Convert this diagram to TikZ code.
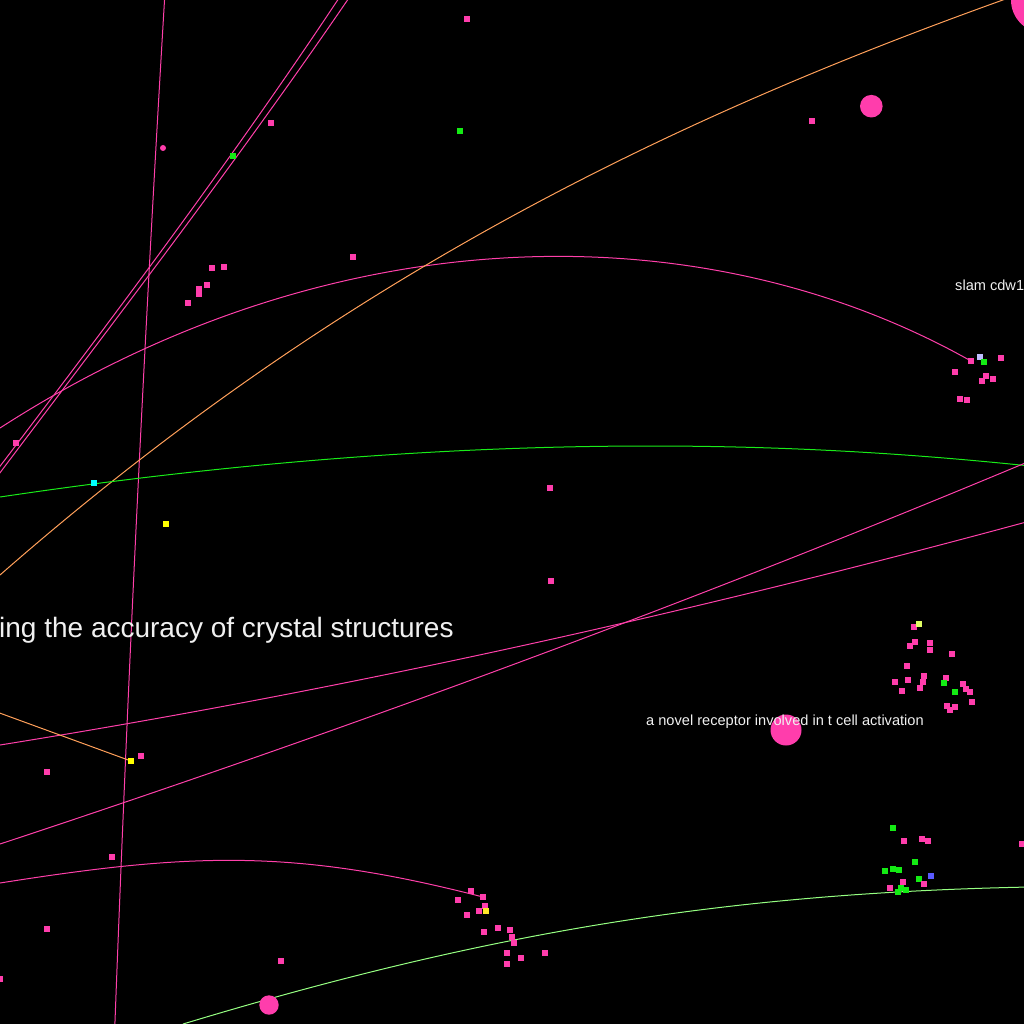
\documentclass[tikz,border=0pt]{standalone}
\usepackage{fontspec}
\setmainfont{Liberation Sans}
\usetikzlibrary{backgrounds}
\definecolor{pinkn}{RGB}{255,61,172}
\definecolor{pinkl}{RGB}{255,64,170}
\definecolor{orangel}{RGB}{255,160,90}
\definecolor{greenl}{RGB}{25,235,25}
\definecolor{lgreenl}{RGB}{150,255,130}
\definecolor{greenn}{RGB}{20,235,20}
\definecolor{yellown}{RGB}{255,255,0}
\definecolor{yellowb}{RGB}{255,230,40}
\definecolor{paley}{RGB}{225,255,100}
\definecolor{lavn}{RGB}{190,190,255}
\definecolor{bluen}{RGB}{90,90,255}
\definecolor{cyann}{RGB}{0,255,255}
\definecolor{txt}{RGB}{240,240,240}
\begin{document}
\begin{tikzpicture}[x=1pt,y=-1pt,
  sq/.style={rectangle,inner sep=0pt,minimum size=5.5pt,fill=#1},
  sq/.default=pinkn,
  hub/.style={circle,inner sep=0pt,minimum size=#1,fill=pinkn},
  link/.style={line width=1pt},
  lbl/.style={anchor=base west,inner sep=0pt,text=txt}]
\useasboundingbox (0,0) rectangle (1024,1024);
% ---------- nodes ----------
\node[sq] (p1) at (467,19) {};
\node[circle,inner sep=0pt,minimum size=6pt,fill=pinkn] (p2) at (163,148) {};
\node[sq] (p3) at (271,123) {};
\node[sq=greenn] (g1) at (233,156) {};
\node[sq=greenn] (g2) at (460,131) {};
\node[sq] (p4) at (812,121) {};
\node[hub=22.6pt] (B1) at (871.3,106.2) {};
\node[hub=66pt] (B0) at (1044,0) {};
\node[sq] (p5) at (353,257) {};
\node[sq] (p6) at (212,268) {};
\node[sq] (p7) at (224,267) {};
\node[sq] (p8) at (207,285) {};
\node[sq] (p9) at (199,289) {};
\node[sq] (p10) at (199,294) {};
\node[sq] (p11) at (188,303) {};
\node[sq] (p12) at (16,443) {};
\node[sq=cyann] (c1) at (94,483) {};
\node[sq] (p13) at (550,488) {};
\node[sq=yellown] (y1) at (166,524) {};
\node[sq] (p14) at (551,581) {};
% slam cluster
\node[sq] (s1) at (971,361) {};
\node[sq=lavn] (s2) at (980,357) {};
\node[sq=greenn] (s3) at (984,362) {};
\node[sq] (s4) at (1001,358) {};
\node[sq] (s5) at (955,372) {};
\node[sq] (s6) at (986,376) {};
\node[sq] (s7) at (982,381) {};
\node[sq] (s8) at (993,379) {};
\node[sq] (s9) at (960,399) {};
\node[sq] (s10) at (967,400) {};
% right cluster
\node[sq] (r2) at (914,627) {};
\node[sq=paley] (r1) at (919,624) {};
\node[sq] (r3) at (915,642) {};
\node[sq] (r4) at (930,643) {};
\node[sq] (r5) at (910,646) {};
\node[sq] (r6) at (930,650) {};
\node[sq] (r7) at (952,654) {};
\node[sq] (r8) at (907,666) {};
\node[sq] (r9) at (924,676) {};
\node[sq] (r10) at (908,680) {};
\node[sq] (r11) at (895,682) {};
\node[sq] (r12) at (923,682) {};
\node[sq] (r13) at (946,678) {};
\node[sq=greenn] (r14) at (944,683) {};
\node[sq] (r15) at (920,688) {};
\node[sq] (r16) at (902,691) {};
\node[sq] (r17) at (963,684) {};
\node[sq] (r18) at (966,689) {};
\node[sq] (r19) at (970,692) {};
\node[sq=greenn] (r20) at (955,692) {};
\node[sq] (r21) at (972,702) {};
\node[sq] (r22) at (947,706) {};
\node[sq] (r23) at (955,707) {};
\node[sq] (r24) at (950,710) {};
\node[hub=31pt] (B2) at (786,730) {};
% left
\node[sq] (p15) at (141,756) {};
\node[sq=yellown] (y2) at (131,761) {};
\node[sq] (p16) at (47,772) {};
\node[sq] (p17) at (112,857) {};
\node[sq] (p18) at (47,929) {};
\node[sq] (p19) at (0,979) {};
\node[sq] (p20) at (281,961) {};
\node[hub=19.4pt] (B3) at (269,1005) {};
% bottom middle cluster
\node[sq] (b1) at (471,891) {};
\node[sq] (b2) at (483,897) {};
\node[sq] (b3) at (458,900) {};
\node[sq] (b4) at (485,906) {};
\node[sq] (b5) at (479,911) {};
\node[sq=yellowb] (yb) at (486,911) {};
\node[sq] (b6) at (467,915) {};
\node[sq] (b7) at (498,928) {};
\node[sq] (b8) at (484,932) {};
\node[sq] (b9) at (510,930) {};
\node[sq] (b10) at (512,937) {};
\node[sq] (b11) at (514,943) {};
\node[sq] (b12) at (545,953) {};
\node[sq] (b13) at (507,953) {};
\node[sq] (b14) at (521,958) {};
\node[sq] (b15) at (507,964) {};
% bottom right cluster
\node[sq=greenn] (q1) at (893,828) {};
\node[sq] (q2) at (904,841) {};
\node[sq] (q3) at (922,839) {};
\node[sq] (q4) at (928,841) {};
\node[sq] (q5) at (1022,844) {};
\node[sq=greenn] (q6) at (915,862) {};
\node[sq=greenn] (q7) at (885,871) {};
\node[sq=greenn] (q8) at (893,869) {};
\node[sq=greenn] (q9) at (899,870) {};
\node[sq=bluen] (q10) at (931,876) {};
\node[sq] (q11) at (903,882) {};
\node[sq=greenn] (q12) at (919,879) {};
\node[sq] (q13) at (924,884) {};
\node[sq] (q14) at (890,888) {};
\node[sq=greenn] (q15) at (901,888) {};
\node[sq=greenn] (q16) at (906,890) {};
\node[sq=greenn] (q17) at (898,892) {};
% ---------- free ends ----------
\coordinate (v1) at (165,-8);
\coordinate (v2) at (114.6,1032);
\coordinate (la) at (343,-8);
\coordinate (lb) at (353,-8);
\coordinate (lea) at (-18,490);
\coordinate (leb) at (-13,490);
\coordinate (ar) at (0,428);
\coordinate (oe) at (0,575);
\coordinate (ge0) at (0,497);
\coordinate (ge1) at (1030,466);
\coordinate (pa0) at (1030,461);
\coordinate (pa1) at (0,844);
\coordinate (pb0) at (1030,521);
\coordinate (pb1) at (0,745);
\coordinate (os) at (-10,709.5);
\coordinate (ba) at (0,883);
\coordinate (lg0) at (183,1024);
\coordinate (lg1) at (1030,887);
% ---------- connectors ----------
\begin{scope}[on background layer]
\fill[black] (-20,-20) rectangle (1044,1044);
\draw[link,pinkl] (v1) .. controls (144.1,340) and (127.6,684) .. (v2);
\draw[link,pinkl] (la) .. controls (233.4,158) and (108,324) .. (lea);
\draw[link,pinkl] (lb) .. controls (240,158) and (112,324) .. (leb);
\draw[link,pinkl] (ar) .. controls (330,215) and (700,210) .. (s1);
\draw[link,orangel] (B0.175) .. controls (672,118) and (340,277) .. (oe);
\draw[link,greenl] (ge0) .. controls (500,422.5) and (836,446) .. (ge1);
\draw[link,pinkl] (pa0) .. controls (684,605.8) and (340,731.8) .. (pa1);
\draw[link,pinkl] (pb0) .. controls (684,614.8) and (340,690.6) .. (pb1);
\draw[link,orangel] (os) -- (y2);
\draw[link,pinkl] (ba) .. controls (190,853) and (293,848.4) .. (b2);
\draw[link,lgreenl] (lg0) .. controls (483,933.3) and (724,893) .. (lg1);
\end{scope}
% ---------- labels ----------
\node[lbl,font=\fontsize{28}{32}\selectfont] (t1) at (-1,637) {ing the accuracy of crystal structures};
\node[lbl,font=\fontsize{14.6}{17}\selectfont] (t2) at (646,725) {a novel receptor involved in t cell activation};
\node[lbl,font=\fontsize{14.6}{17}\selectfont] (t3) at (955,290) {slam cdw1};
\end{tikzpicture}
\end{document}
